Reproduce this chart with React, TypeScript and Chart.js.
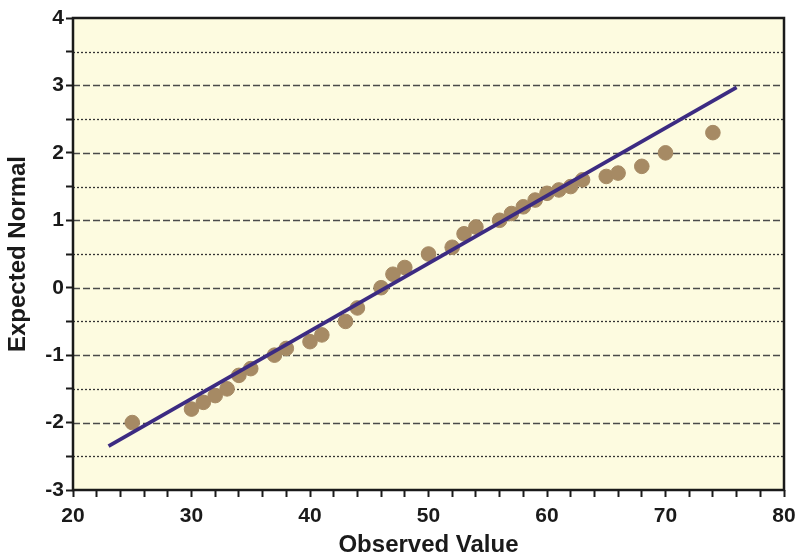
import React, { useEffect, useRef } from "react";
import { Chart, registerables } from "chart.js";

Chart.register(...registerables);

const observed = [25, 30, 31, 32, 33, 34, 35, 37, 38, 40, 41, 43, 44, 46, 47, 48, 50, 52, 53, 54, 56, 57, 58, 59, 60, 61, 62, 63, 65, 66, 68, 70, 74];
const expected = [-2, -1.8, -1.7, -1.6, -1.5, -1.3, -1.2, -1.0, -0.9, -0.8, -0.7, -0.5, -0.3, 0, 0.2, 0.3, 0.5, 0.6, 0.8, 0.9, 1.0, 1.1, 1.2, 1.3, 1.4, 1.45, 1.5, 1.6, 1.65, 1.7, 1.8, 2.0, 2.3];
const fitX = [23, 76];
const fitY = [-2.35, 2.97];
const xTickLabels = [20, 30, 40, 50, 60, 70, 80];
const yTickLabels = [-3, -2, -1, 0, 1, 2, 3, 4];

const FONT = "'Liberation Sans', Arial, sans-serif";

const frameAndGrid = {
  id: "frameAndGrid",
  beforeDatasetsDraw(chart: any) {
    const { ctx, chartArea: a, scales } = chart;
    ctx.save();
    ctx.fillStyle = "#FDFBE0";
    ctx.fillRect(a.left, a.top, a.right - a.left, a.bottom - a.top);
    const y = scales.y;
    for (let v = -2.5; v <= 3.5; v += 0.5) {
      const py = Math.round(y.getPixelForValue(v)) + 0.5;
      const isMajor = Math.abs(v - Math.round(v)) < 1e-6;
      ctx.beginPath();
      ctx.setLineDash(isMajor ? [7, 3] : [2, 2]);
      ctx.strokeStyle = isMajor ? "#4a4a4a" : "#333";
      ctx.lineWidth = isMajor ? 1.6 : 1.3;
      ctx.moveTo(a.left, py);
      ctx.lineTo(a.right, py);
      ctx.stroke();
    }
    ctx.restore();
  },
  afterDraw(chart: any) {
    const { ctx, chartArea: a } = chart;
    ctx.save();
    ctx.setLineDash([]);
    ctx.strokeStyle = "#1a1a1a";
    ctx.lineWidth = 2.5;
    ctx.strokeRect(a.left, a.top, a.right - a.left, a.bottom - a.top);
    ctx.restore();
  },
};

export default function App() {
  const ref = useRef<HTMLCanvasElement>(null);
  useEffect(() => {
    document.body.style.margin = "0";
    const points = observed.map((x, i) => ({ x, y: expected[i] }));
    const fit = fitX.map((x, i) => ({ x, y: fitY[i] }));
    const chart = new Chart(ref.current!, {
      type: "scatter",
      data: {
        datasets: [
          {
            label: "Fit",
            data: fit,
            showLine: true,
            borderColor: "#3C2B82",
            borderWidth: 3.8,
            pointRadius: 0,
            order: 0,
          },
          {
            label: "Observed",
            data: points,
            backgroundColor: "#A68A64",
            borderColor: "#A68A64",
            pointRadius: 7.3,
            pointHoverRadius: 7.3,
            order: 1,
          },
        ],
      },
      plugins: [frameAndGrid],
      options: {
        animation: false,
        responsive: false,
        layout: { padding: { top: 18, right: 14, left: 0, bottom: 0 } },
        plugins: { legend: { display: false }, tooltip: { enabled: false } },
        scales: {
          x: {
            type: "linear",
            min: 20,
            max: 80,
            afterFit: (s: any) => { s.height = 70; s.paddingRight = 0; s.paddingLeft = 0; },
            ticks: {
              stepSize: 2,
              autoSkip: false,
              maxRotation: 0,
              padding: 7,
              color: "#1a1a1a",
              font: { family: FONT, size: 21, weight: "bold" },
              callback: (v: any) => (xTickLabels.includes(Number(v)) ? String(v) : ""),
            },
            grid: { drawOnChartArea: false, drawTicks: true, tickLength: 7, tickColor: "#1a1a1a", tickWidth: 2 },
            border: { display: false },
            title: {
              display: true,
              text: "Observed Value",
              color: "#1a1a1a",
              font: { family: FONT, size: 24, weight: "bold" },
              padding: { top: 0, bottom: 0 },
            },
          },
          y: {
            type: "linear",
            min: -3,
            max: 4,
            afterFit: (s: any) => { s.width = 73; s.paddingTop = 0; s.paddingBottom = 0; },
            ticks: {
              stepSize: 0.5,
              autoSkip: false,
              padding: 2,
              color: "#1a1a1a",
              font: { family: FONT, size: 21, weight: "bold" },
              callback: (v: any) => (yTickLabels.includes(Number(v)) ? String(v) : ""),
            },
            grid: { drawOnChartArea: false, drawTicks: true, tickLength: 7, tickColor: "#1a1a1a", tickWidth: 2 },
            border: { display: false },
            title: {
              display: true,
              text: "Expected Normal",
              color: "#1a1a1a",
              font: { family: FONT, size: 24, weight: "bold" },
              padding: { top: 4, bottom: 0 },
            },
          },
        },
      },
    });
    return () => chart.destroy();
  }, []);
  return <canvas ref={ref} width={798} height={560} style={{ display: "block" }} />;
}
